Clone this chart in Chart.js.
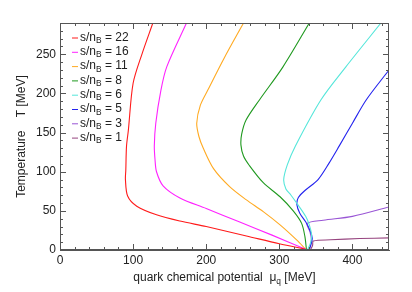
<!DOCTYPE html>
<html>
<head>
<meta charset="utf-8">
<script src="https://cdn.jsdelivr.net/npm/chart.js@4.4.1/dist/chart.umd.min.js"></script>
<style>
  html, body { margin: 0; padding: 0; background: #fff; }
  #wrap { width: 412px; height: 292px; }
</style>
</head>
<body>
<div id="wrap"><canvas id="phase"></canvas></div>
<script>
// entropy per baryon values, one curve each
const ratios = ['22', '16', '11', '8', '6', '5', '3', '1'];
const colors = ['#ff1a1a', '#ff22ff', '#ffaa22', '#1f991f', '#55e6da', '#2222ee', '#9955d5', '#96447f'];

// quark chemical potential [MeV] / temperature [MeV] along each curve
const mu22 = [127, 112, 100, 93.5, 91, 90, 89.5, 92.5, 105, 132, 164, 200, 255, 300, 336];
const t22  = [290, 250, 213, 153, 133, 102, 90, 69, 56, 45, 37, 30, 18, 8, 1];
const mu16 = [173, 146, 138, 131, 129, 130, 132, 141, 164, 200, 245, 290, 336];
const t16  = [290, 234, 204, 162, 133, 115, 100, 82, 66.5, 53, 36, 19, 1];
const mu11 = [251, 225, 202, 192, 187, 190, 196, 210, 232, 255, 278, 301, 324, 336];
const t11  = [290, 246, 204, 185, 162, 145, 130, 104, 81, 64, 49, 32, 12.5, 1];
const mu8  = [341, 305, 273, 254.5, 248.5, 247.5, 251, 259, 278, 301, 319, 330.5, 335, 337];
const t8   = [290, 234, 192, 166, 148, 134, 120, 108, 86, 68, 50, 34, 17, 1];
const mu6  = [439, 391, 357, 322, 311, 306, 309, 316, 326, 336, 341, 344, 343, 339];
const t6   = [290, 234, 192, 133, 109, 90, 78, 70, 57, 43, 32, 20, 10, 1];
const mu5  = [450, 419, 400, 382, 368, 353, 335, 326, 324, 328, 336, 342, 345, 343, 341];
const t5   = [230, 192, 162, 133, 111, 90, 76, 67, 58, 47, 36, 25, 15, 6, 1];
const mu3  = [450, 400, 360, 338, 342, 344, 342, 340];
const t3   = [55, 43, 38, 34, 23, 12.5, 4, 1];
const mu1  = [450, 410, 370, 346.5, 345.5, 343];
const t1   = [15.5, 14.6, 13, 11.5, 6, 1];

const muSeries = [mu22, mu16, mu11, mu8, mu6, mu5, mu3, mu1];
const tSeries  = [t22, t16, t11, t8, t6, t5, t3, t1];

const xTicks = [0, 100, 200, 300, 400];
const yTicks = [0, 50, 100, 150, 200, 250];

const FONT = '"Liberation Sans", Arial, Helvetica, sans-serif';
const AXIS = '#555';

// draws a string with a subscript part, returns end x
function drawSub(ctx, x, y, parts, size) {
    parts.forEach(p => {
        const fs = p.sub ? size * 0.7 : size;
        ctx.font = fs + 'px ' + FONT;
        const dy = p.sub ? size * 0.28 : 0;
        ctx.fillText(p.t, x, y + dy);
        x += ctx.measureText(p.t).width;
    });
    return x;
}
function widthSub(ctx, parts, size) {
    let w = 0;
    parts.forEach(p => {
        const fs = p.sub ? size * 0.7 : size;
        ctx.font = fs + 'px ' + FONT;
        w += ctx.measureText(p.t).width;
    });
    return w;
}

const framePlugin = {
    id: 'frame',
    afterDatasetsDraw(chart) {
        const ctx = chart.ctx;
        const a = chart.chartArea;
        const xs = chart.scales.x, ys = chart.scales.y;
        ctx.save();
        ctx.strokeStyle = AXIS;
        ctx.lineWidth = 1;
        ctx.strokeRect(a.left + 0.5, a.top + 0.5, a.right - a.left - 1, a.bottom - a.top - 1);
        ctx.beginPath();
        for (let v = 0; v <= 450; v += 20) {
            const px = Math.round(xs.getPixelForValue(v)) + 0.5;
            const len = v % 100 === 0 ? 6 : 3;
            ctx.moveTo(px, a.bottom); ctx.lineTo(px, a.bottom - len);
            ctx.moveTo(px, a.top); ctx.lineTo(px, a.top + len);
        }
        for (let v = 0; v <= 290; v += 10) {
            const py = Math.round(ys.getPixelForValue(v)) + 0.5;
            const len = v % 50 === 0 ? 6 : 3;
            ctx.moveTo(a.left, py); ctx.lineTo(a.left + len, py);
            ctx.moveTo(a.right, py); ctx.lineTo(a.right - len, py);
        }
        ctx.stroke();

        // legend
        ctx.textBaseline = 'middle';
        ctx.fillStyle = '#222';
        ratios.forEach((r, i) => {
            const y = 37.5 + i * 14.3;
            ctx.strokeStyle = colors[i];
            ctx.beginPath();
            ctx.moveTo(72, y + 0.5); ctx.lineTo(78, y + 0.5);
            ctx.stroke();
            drawSub(ctx, 80, y, [{t: 's/n'}, {t: 'B', sub: true}, {t: ' = ' + r}], 12);
        });

        // x title
        const xParts = [{t: 'quark chemical potential  '}, {t: 'μ'}, {t: 'q', sub: true}, {t: ' [MeV]'}];
        const xw = widthSub(ctx, xParts, 12);
        drawSub(ctx, (a.left + a.right) / 2 - xw / 2, 278, xParts, 12);

        // y title
        ctx.save();
        ctx.translate(22, (a.top + a.bottom) / 2);
        ctx.rotate(-Math.PI / 2);
        ctx.font = '12px ' + FONT;
        ctx.textAlign = 'center';
        ctx.fillText('Temperature    T [MeV]', 0, 0);
        ctx.restore();
        ctx.restore();
    }
};

const datasets = ratios.map((r, i) => ({
    label: 's/nB = ' + r,
    data: muSeries[i].map((m, k) => ({x: m, y: tSeries[i][k]})),
    showLine: true,
    borderColor: colors[i],
    backgroundColor: colors[i],
    borderWidth: 1.1,
    pointRadius: 0,
    tension: 0.3,
    fill: false
}));

new Chart(document.getElementById('phase').getContext('2d'), {
    type: 'scatter',
    data: { datasets: datasets },
    options: {
        responsive: true,
        maintainAspectRatio: false,
        animation: false,
        layout: { padding: { top: 23, right: 23, left: 0, bottom: 0 } },
        plugins: {
            legend: { display: false },
            tooltip: { enabled: false }
        },
        scales: {
            x: {
                type: 'linear',
                min: 0,
                max: 450,
                afterBuildTicks: s => { s.ticks = xTicks.map(v => ({value: v})); },
                afterFit: s => { s.height = 42; },
                grid: { drawOnChartArea: false, drawTicks: false },
                border: { color: AXIS },
                ticks: { padding: 3, color: '#222', font: { family: FONT, size: 12 } }
            },
            y: {
                type: 'linear',
                min: 0,
                max: 290,
                afterBuildTicks: s => { s.ticks = yTicks.map(v => ({value: v})); },
                afterFit: s => { s.width = 60; },
                grid: { drawOnChartArea: false, drawTicks: false },
                border: { color: AXIS },
                ticks: { padding: 4, color: '#222', font: { family: FONT, size: 12 } }
            }
        }
    },
    plugins: [framePlugin]
});
</script>
</body>
</html>
